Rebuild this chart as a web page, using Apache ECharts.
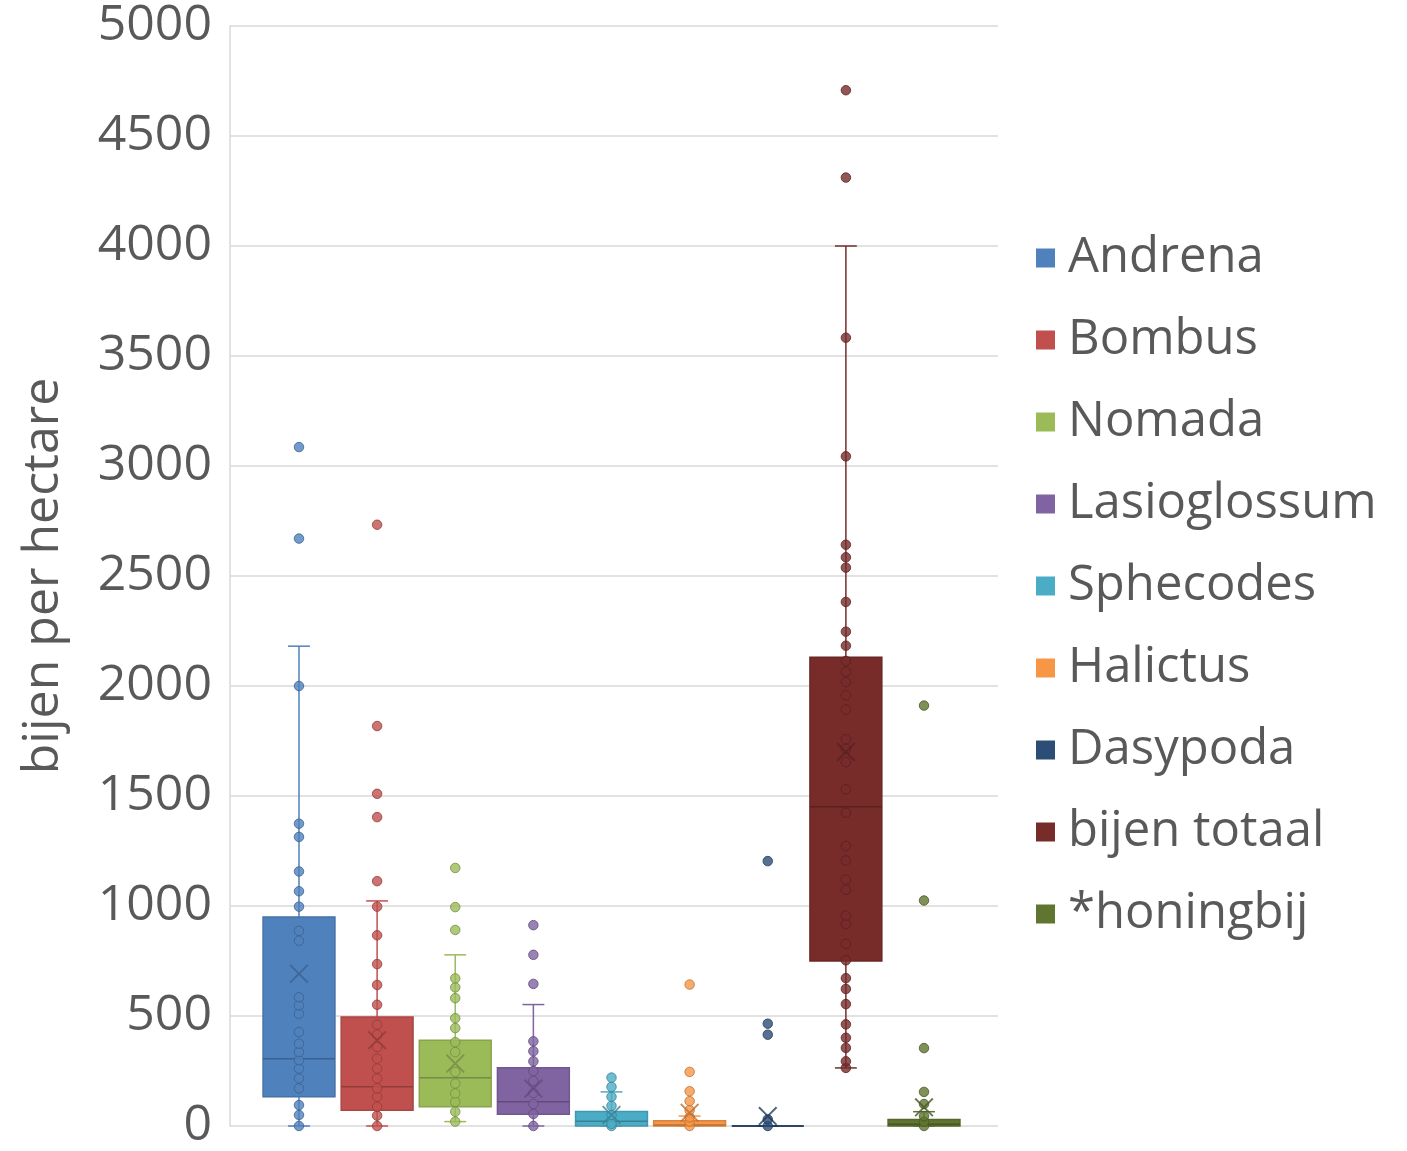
<!DOCTYPE html>
<html>
<head>
<meta charset="utf-8">
<script src="https://cdn.jsdelivr.net/npm/echarts@6/dist/echarts.min.js"></script>
<style>html,body{margin:0;padding:0;background:#fff}#c{width:1407px;height:1151px}</style>
</head>
<body>
<div id="c"></div>
<script>
// ---- data ----
const genera = ['Andrena','Bombus','Nomada','Lasioglossum','Sphecodes','Halictus','Dasypoda','bijen totaal','*honingbij'];
const colors = ['#4F81BD','#C0504D','#9BBB59','#8064A2','#4BACC6','#F79646','#2C4D75','#772C2A','#5F7530'];
// [min (lower whisker), Q1, median, Q3, max (upper whisker)]
const boxAndrena = [0, 133, 306, 950, 2181];
const boxBombus = [0, 72, 178, 495, 1023];
const boxNomada = [20, 88, 219, 390, 778];
const boxLasioglossum = [0, 53, 110, 265, 552];
const boxSphecodes = [0, 0, 22, 66, 155];
const boxHalictus = [0, 0, 5, 24, 45];
const boxDasypoda = [0, 0, 0, 0, 0];
const boxTotaal = [264, 750, 1451, 2131, 4000];
const boxHoningbij = [0, 0, 8, 30, 65];
// individual points (inner points and outliers)
const ptsAndrena = [0, 50, 95, 171, 216, 261, 299, 336, 374, 427, 510, 548, 585, 842, 887, 997, 1067, 1157, 1314, 1374, 2000, 2670, 3086];
const ptsBombus = [0, 47, 87, 133, 171, 216, 261, 306, 359, 415, 461, 551, 641, 736, 867, 997, 1113, 1404, 1510, 1818, 2733];
const ptsNomada = [20, 65, 110, 148, 193, 246, 336, 381, 445, 490, 581, 630, 671, 891, 995, 1173];
const ptsLasioglossum = [0, 55, 100, 150, 205, 250, 294, 340, 385, 646, 778, 913];
const ptsSphecodes = [0, 10, 50, 92, 133, 178, 220];
const ptsHalictus = [0, 20, 40, 72, 113, 158, 246, 643];
const ptsDasypoda = [0, 30, 415, 465, 1204];
const ptsTotaal = [264, 294, 355, 401, 462, 554, 623, 672, 753, 828, 918, 956, 1074, 1120, 1207, 1273, 1424, 1530, 1654, 1715, 1758, 1893, 1958, 2018, 2065, 2114, 2183, 2247, 2382, 2538, 2585, 2642, 3044, 3583, 4311, 4708];
const ptsHoningbij = [0, 20, 45, 100, 155, 354, 1025, 1911];
const means = [692, 390, 284, 170, 50, 60, 45, 1700, 85];
const yTicks = {min: 0, max: 5000, interval: 500};

const boxes = [boxAndrena, boxBombus, boxNomada, boxLasioglossum, boxSphecodes, boxHalictus, boxDasypoda, boxTotaal, boxHoningbij];
const points = [ptsAndrena, ptsBombus, ptsNomada, ptsLasioglossum, ptsSphecodes, ptsHalictus, ptsDasypoda, ptsTotaal, ptsHoningbij];

function shade(hex, f) {
  const n = parseInt(hex.slice(1), 16);
  const r = Math.round(((n >> 16) & 255) * f), g = Math.round(((n >> 8) & 255) * f), b = Math.round((n & 255) * f);
  return 'rgb(' + r + ',' + g + ',' + b + ')';
}

const FONT = '"Open Sans", "Noto Sans", sans-serif';
const xMark = 'path://M0.7,0 L5,4.3 L9.3,0 L10,0.7 L5.7,5 L10,9.3 L9.3,10 L5,5.7 L0.7,10 L0,9.3 L4.3,5 L0,0.7 Z';

function renderBox(col, border, med) {
  return function (params, api) {
    const x = api.value(0);
    const pMin = api.coord([x, api.value(1)]);
    const yQ1 = api.coord([x, api.value(2)])[1];
    const yMed = api.coord([x, api.value(3)])[1];
    const yQ3 = api.coord([x, api.value(4)])[1];
    const yMax = api.coord([x, api.value(5)])[1];
    const cx = pMin[0], yMin = pMin[1];
    const bw = api.size([1, 0])[0];
    const hw = bw * 0.46, cw = bw * 0.14;
    const ls = {stroke: col, lineWidth: 1.5};
    return {
      type: 'group',
      children: [
        {type: 'line', shape: {x1: cx, y1: yMax, x2: cx, y2: yQ3}, style: ls},
        {type: 'line', shape: {x1: cx - cw, y1: yMax, x2: cx + cw, y2: yMax}, style: ls},
        {type: 'line', shape: {x1: cx, y1: yQ1, x2: cx, y2: yMin}, style: ls},
        {type: 'line', shape: {x1: cx - cw, y1: yMin, x2: cx + cw, y2: yMin}, style: ls},
        {type: 'rect', shape: {x: cx - hw, y: yQ3, width: 2 * hw, height: yQ1 - yQ3}, style: {fill: col, stroke: border, lineWidth: 1.5}},
        {type: 'line', shape: {x1: cx - hw, y1: yMed, x2: cx + hw, y2: yMed}, style: {stroke: med, lineWidth: 1.5}}
      ]
    };
  };
}

const series = [];
genera.forEach(function (name, i) {
  const col = colors[i];
  const border = shade(col, 0.88);
  const dark = shade(col, 0.75);
  series.push({
    name: name, type: 'custom', renderItem: renderBox(col, border, dark),
    itemStyle: {color: col},
    encode: {x: 0, y: [1, 2, 3, 4, 5]},
    data: [[i].concat(boxes[i])], z: 2, silent: true
  });
  series.push({
    name: name, type: 'scatter', symbol: 'circle', symbolSize: 9.5,
    itemStyle: {color: col, borderColor: dark, borderWidth: 1},
    data: points[i].map(function (v) { return [i, v]; }), z: 3, silent: true
  });
  series.push({
    name: name, type: 'scatter', symbol: xMark, symbolSize: 19,
    itemStyle: {color: dark},
    data: [[i, means[i]]], z: 4, silent: true
  });
});

const chart = echarts.init(document.getElementById('c'), null, {renderer: 'canvas'});
chart.setOption({
  animation: false,
  backgroundColor: '#ffffff',
  grid: {left: 230, right: 409, top: 26, bottom: 21, containLabel: false},
  xAxis: {type: 'value', min: -0.883, max: 8.947, show: false},
  yAxis: {
    type: 'value', min: yTicks.min, max: yTicks.max, interval: yTicks.interval,
    name: 'bijen per hectare', nameLocation: 'middle', nameGap: 161, nameRotate: 90,
    nameTextStyle: {fontFamily: FONT, fontSize: 50, color: '#595959'},
    axisLine: {show: true, onZero: false, lineStyle: {color: '#d9d9d9', width: 1.5}},
    axisTick: {show: false},
    axisLabel: {fontFamily: FONT, fontSize: 50, color: '#595959', margin: 18,
      formatter: function (v) { return String(v); }},
    splitLine: {show: true, lineStyle: {color: '#d9d9d9', width: 1.5}}
  },
  legend: {
    orient: 'vertical', left: 1036, top: 233, padding: 0, itemWidth: 19, itemHeight: 19, itemGap: 32,
    icon: 'rect', data: genera, selectedMode: false,
    textStyle: {fontFamily: FONT, fontSize: 49, color: '#595959', lineHeight: 50, padding: [0, 0, 0, 8]}
  },
  series: series
});
</script>
</body>
</html>
